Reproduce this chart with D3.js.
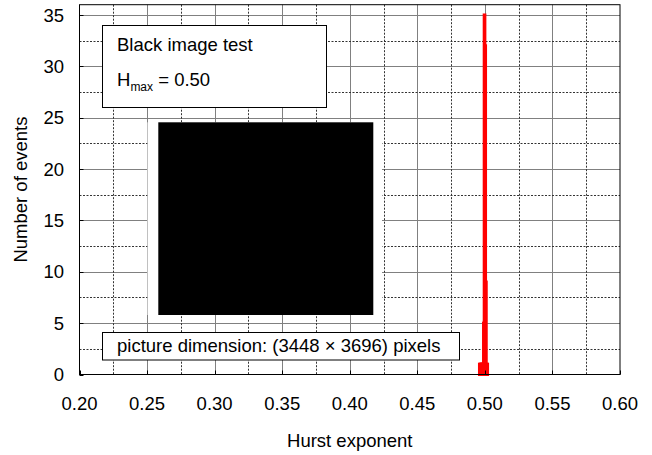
<!DOCTYPE html>
<html><head><meta charset="utf-8">
<script src="https://cdn.jsdelivr.net/npm/d3@7"></script>
<style>body{margin:0;background:#fff}svg{display:block}text{font-family:"Liberation Sans",Arial,sans-serif;fill:#000}</style>
</head><body><svg id="c" width="652" height="455"></svg>
<script>
// Data
const binStart = [0.4960,0.4965,0.4970,0.4975,0.4980,0.4985,0.4990,0.4995,0.5000,0.5005,0.5010,0.5015];
const counts   = [1,1,1,1,1,1,5,35,32,9,1,1];
const binWidth = 0.0005;
const xTicks = [0.20,0.25,0.30,0.35,0.40,0.45,0.50,0.55,0.60];
const xMinor = [0.225,0.275,0.325,0.375,0.425,0.475,0.525,0.575];
const yTicks = [0,5,10,15,20,25,30,35];
const yMinor = [2.5,7.5,12.5,17.5,22.5,27.5,32.5];
const title1 = "Black image test";
const hmaxLabel = "0.50";
const dimLabel = "picture dimension: (3448 \u00d7 3696) pixels";

const svg = d3.select("#c");
const L=79.5, R=620, T=4.7, B=374.5, FS=18.5;
const x = d3.scaleLinear().domain([0.2,0.6]).range([L,R]);
const y = d3.scaleLinear().domain([0,36]).range([B,T]);

// grid
const g = svg.append("g");
g.selectAll(".vmaj").data(xTicks.slice(1,-1)).join("line")
  .attr("x1",d=>Math.round(x(d))+0.5).attr("x2",d=>Math.round(x(d))+0.5).attr("y1",T).attr("y2",B)
  .attr("stroke","#808080").attr("stroke-width",1);
g.selectAll(".hmaj").data(yTicks.slice(1)).join("line")
  .attr("y1",d=>Math.round(y(d))+0.5).attr("y2",d=>Math.round(y(d))+0.5).attr("x1",L).attr("x2",R)
  .attr("stroke","#808080").attr("stroke-width",1);
g.selectAll(".vmin").data(xMinor).join("line")
  .attr("x1",d=>Math.round(x(d))+0.5).attr("x2",d=>Math.round(x(d))+0.5).attr("y1",T).attr("y2",B)
  .attr("stroke","#333").attr("stroke-width",1).attr("stroke-dasharray","2,1.5");
g.selectAll(".hmin").data(yMinor).join("line")
  .attr("y1",d=>Math.round(y(d))+0.5).attr("y2",d=>Math.round(y(d))+0.5).attr("x1",L).attr("x2",R)
  .attr("stroke","#333").attr("stroke-width",1).attr("stroke-dasharray","2,1.5");

// histogram
svg.append("g").selectAll("rect").data(binStart).join("rect")
  .attr("x",(d)=>x(d)).attr("width",d=>x(d+binWidth)-x(d))
  .attr("y",(d,i)=>y(counts[i])).attr("height",(d,i)=>y(0)-y(counts[i]))
  .attr("fill","#ff0000").attr("stroke","#ff0000").attr("stroke-width",3);

// ticks + border
const tk = svg.append("g");
tk.selectAll(".bt").data(xTicks).join("line")
  .attr("x1",d=>Math.round(x(d))+0.5).attr("x2",d=>Math.round(x(d))+0.5).attr("y1",B).attr("y2",B-4)
  .attr("stroke","#000");
tk.selectAll(".lt").data(yTicks).join("line")
  .attr("y1",d=>Math.round(y(d))+0.5).attr("y2",d=>Math.round(y(d))+0.5).attr("x1",L).attr("x2",L+4)
  .attr("stroke","#000");
svg.append("rect").attr("x",L).attr("y",T).attr("width",R-L).attr("height",B-T)
  .attr("fill","none").attr("stroke","#000").attr("stroke-width",1);

// axis labels
svg.append("g").selectAll("text").data(xTicks).join("text")
  .attr("x",d=>x(d)).attr("y",410).attr("text-anchor","middle").attr("font-size",FS)
  .text(d3.format(".2f"));
svg.append("g").selectAll("text").data(yTicks).join("text")
  .attr("x",64).attr("y",d=>y(d)).attr("dy","0.36em").attr("text-anchor","end").attr("font-size",FS)
  .text(d=>d);
svg.append("text").attr("x",(L+R)/2).attr("y",447).attr("text-anchor","middle").attr("font-size",FS).text("Hurst exponent");
svg.append("text").attr("transform",`translate(27,${(T+B)/2}) rotate(-90)`).attr("text-anchor","middle").attr("font-size",FS).text("Number of events");

// inset image
svg.append("rect").attr("x",147.5).attr("y",122.3).attr("width",382-147.5).attr("height",315-122.3).attr("fill","#fff");
svg.append("rect").attr("x",158.3).attr("y",122.3).attr("width",373.3-158.3).attr("height",315-122.3).attr("fill","#000");

// annotation boxes
svg.append("rect").attr("x",102.5).attr("y",25.5).attr("width",224).attr("height",82).attr("fill","#fff").attr("stroke","#000");
svg.append("text").attr("x",117).attr("y",50.7).attr("font-size",FS).text(title1);
const ht = svg.append("text").attr("x",117).attr("y",86).attr("font-size",FS);
ht.append("tspan").text("H");
ht.append("tspan").attr("font-size",12).attr("dy",5).text("max");
ht.append("tspan").attr("dy",-5).text(" = " + hmaxLabel);
svg.append("rect").attr("x",102.5).attr("y",332.5).attr("width",357).attr("height",27.5).attr("fill","#fff").attr("stroke","#000");
svg.append("text").attr("x",117).attr("y",352).attr("font-size",FS).text(dimLabel);
</script></body></html>
